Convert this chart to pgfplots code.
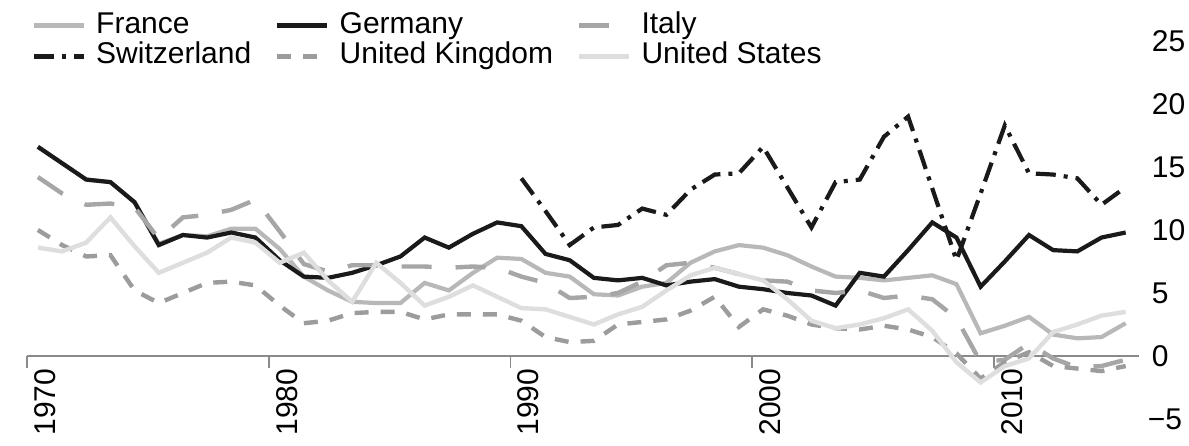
\documentclass[border=0pt]{standalone}
\usepackage{pgfplots}
\usepackage{pgfplotstable}
\pgfplotsset{compat=1.18}
\usepackage{fontspec}
\setmainfont{Liberation Sans}
\definecolor{cFR}{HTML}{B8B8B8}
\definecolor{cDE}{HTML}{1A1A1A}
\definecolor{cIT}{HTML}{A6A6A6}
\definecolor{cCH}{HTML}{1A1A1A}
\definecolor{cUK}{HTML}{9C9C9C}
\definecolor{cUS}{HTML}{DEDEDE}
\definecolor{cAx}{HTML}{8A8A8A}

\pgfplotstableread{
year FR DE IT UK US
1970 16.6 16.6 14.2 10.0 8.6
1971 15.3 15.3 12.9 8.8 8.3
1972 14.0 14.0 12.0 7.9 9.0
1973 13.8 13.8 12.1 8.0 11.0
1974 12.2 12.2 11.8 5.2 8.7
1975 8.9 8.8 9.3 4.2 6.6
1976 9.6 9.6 11.0 5.0 7.4
1977 9.5 9.4 11.2 5.8 8.2
1978 10.1 9.8 11.6 5.9 9.4
1979 10.1 9.4 12.4 5.6 9.0
1980 8.5 7.6 9.9 4.0 7.4
1981 6.3 6.3 7.3 2.6 8.2
1982 5.2 6.2 6.7 2.8 6.0
1983 4.3 6.6 7.2 3.4 4.3
1984 4.2 7.2 7.2 3.5 7.4
1985 4.2 7.9 7.1 3.5 5.8
1986 5.8 9.4 7.1 2.9 4.0
1987 5.2 8.6 7.0 3.3 4.7
1988 6.6 9.7 7.1 3.3 5.6
1989 7.8 10.6 7.0 3.3 4.7
1990 7.7 10.3 6.3 2.8 3.8
1991 6.6 8.1 5.8 1.5 3.7
1992 6.3 7.6 4.6 1.1 3.1
1993 4.9 6.2 4.7 1.2 2.5
1994 4.8 6.0 5.0 2.5 3.3
1995 5.5 6.2 5.9 2.7 3.9
1996 5.8 5.6 7.2 2.9 5.2
1997 7.4 5.9 7.4 3.6 6.4
1998 8.3 6.1 7.0 4.7 7.0
1999 8.8 5.5 6.5 2.3 6.5
2000 8.6 5.3 6.0 3.7 6.0
2001 8.0 5.0 5.9 3.2 4.5
2002 7.1 4.8 5.2 2.5 2.8
2003 6.3 4.0 5.0 2.2 2.2
2004 6.2 6.6 5.2 2.1 2.5
2005 6.0 6.3 4.6 2.4 3.0
2006 6.2 8.4 4.8 2.1 3.7
2007 6.4 10.6 4.5 1.5 2.0
2008 5.7 9.4 3.0 0.2 -0.5
2009 1.8 5.5 -0.5 -1.8 -2.1
2010 2.4 7.5 -0.3 -0.5 -0.8
2011 3.1 9.6 1.0 0.3 -0.2
2012 1.7 8.4 -0.2 -0.8 1.9
2013 1.4 8.3 -0.9 -1.0 2.5
2014 1.5 9.4 -0.8 -1.2 3.2
2015 2.6 9.8 -0.3 -0.8 3.5
}\maindata

\pgfplotstableread{
year CH
1990 14.1
1991 11.5
1992 8.8
1993 10.2
1994 10.4
1995 11.7
1996 11.2
1997 13.2
1998 14.4
1999 14.5
2000 16.6
2001 13.4
2002 10.2
2003 13.8
2004 14.0
2005 17.4
2006 19.0
2007 13.3
2008 7.6
2009 12.9
2010 18.3
2011 14.5
2012 14.4
2013 14.1
2014 12.0
2015 13.4
}\chdata

\begin{document}
\begin{tikzpicture}
\begin{axis}[
  scale only axis, width=556pt, height=189pt,
  xmin=1970, xmax=2016, ymin=-5, ymax=25,
  axis x line=middle, axis y line=right,
  x axis line style={-, draw=cAx, line width=0.8pt},
  y axis line style={draw=none},
  xtick={1970,1980,...,2010},
  xticklabels={1970,1980,1990,2000,2010},
  xtick style={draw=cAx, line width=0.8pt, yshift=-2.9pt},
  major tick length=5.8pt,
  xticklabel style={rotate=90, anchor=east, font=\fontsize{15}{18}\selectfont, yshift=-9pt},
  ytick={-5,0,...,25},
  yticklabels={\hspace{-2pt}−5,0,5,10,15,20,25},
  ytick style={draw=none},
  yticklabel style={anchor=west, font=\fontsize{15}{18}\selectfont, xshift=0pt},
  clip=false,
  legend columns=3,
  legend style={draw=none, fill=none, inner sep=0pt, outer sep=0pt,
    at={(rel axis cs:0.0045,1.082)}, anchor=north west,
    font=\fontsize{15}{18}\selectfont,
    nodes={inner xsep=1pt, inner ysep=0.5pt, text height=11pt, text depth=3.5pt},
    /tikz/every odd column/.append style={column sep=4pt},
    /tikz/every even column/.append style={column sep=11pt},
    /tikz/column 4/.append style={column sep=14pt},
    row sep=0pt},
  legend cell align=left,
  legend image code/.code={\draw[#1] (0pt,0pt) -- (25pt,0pt);},
]
\addplot[cFR, line width=2.1pt] table[x expr=\thisrow{year}+0.45, y=FR] {\maindata};
\addlegendentry{France}
\addplot[cDE, line width=2.1pt] table[x expr=\thisrow{year}+0.45, y=DE] {\maindata};
\addlegendentry{Germany}
\addplot[cIT, line width=2.2pt, dash pattern=on 15pt off 12pt] table[x expr=\thisrow{year}+0.45, y=IT] {\maindata};
\addlegendentry{Italy}
\addplot[cCH, line width=2.1pt, dash pattern=on 10pt off 4pt on 2pt off 4pt] table[x expr=\thisrow{year}+0.45, y=CH] {\chdata};
\addlegendentry{Switzerland}
\addplot[cUK, line width=2.2pt, dash pattern=on 7pt off 6pt] table[x expr=\thisrow{year}+0.45, y=UK] {\maindata};
\addlegendentry{United Kingdom}
\addplot[cUS, line width=2.2pt] table[x expr=\thisrow{year}+0.45, y=US] {\maindata};
\addlegendentry{United States}
\coordinate (bbsw) at (rel axis cs:-0.0243,-0.0714);
\coordinate (bbne) at (rel axis cs:1.045,1.1085);
\end{axis}
\pgfresetboundingbox
\path[use as bounding box] (bbsw) rectangle (bbne);
\end{tikzpicture}
\end{document}
